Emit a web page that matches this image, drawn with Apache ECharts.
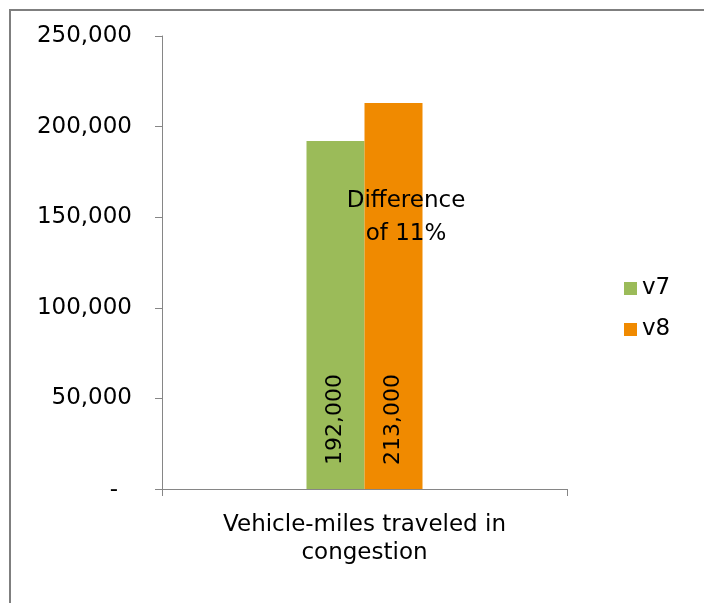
<!DOCTYPE html>
<html>
<head>
<meta charset="utf-8">
<title>Vehicle-miles traveled in congestion</title>
<script src="https://cdn.jsdelivr.net/npm/echarts@6/dist/echarts.min.js"></script>
<style>
  html, body { margin: 0; padding: 0; background: #fff; overflow: hidden; }
  .wrap { position: relative; width: 704px; height: 603px; overflow: hidden; }
  /* chart frame: only top and left edges show in the picture */
  .frame { position: absolute; left: 9px; top: 9px; width: 800px; height: 700px;
           border-top: 2px solid #7f7f7f; border-left: 2px solid #7f7f7f; }
  #myChart { position: absolute; left: 0; top: 0; width: 704px; height: 603px; }
</style>
</head>
<body>
<div class="wrap">
  <div class="frame"></div>
  <div id="myChart"></div>
</div>
<script>
// data
var categories = ['Vehicle-miles traveled in\ncongestion'];
var v7Values = [192000];
var v8Values = [213000];
var seriesNames = ['v7', 'v8'];
var noteText = 'Difference\nof 11%';

var fontFamily = '"DejaVu Sans", sans-serif';
var axisGray = '#868686';

function fmt(v) {
    return v.toLocaleString('en-US');
}

var myChart = echarts.init(document.getElementById('myChart'));

var barLabel = {
    show: true,
    position: 'insideBottom',
    rotate: 90,
    align: 'left',
    verticalAlign: 'middle',
    distance: 24,
    color: '#000',
    fontSize: 22,
    fontFamily: fontFamily,
    formatter: function (p) { return fmt(p.value); }
};

var option = {
    backgroundColor: 'transparent',
    animation: false,
    textStyle: { fontFamily: fontFamily },
    grid: {
        left: 162,
        right: 137,
        top: 36,
        bottom: 114
    },
    legend: {
        orient: 'vertical',
        left: 624,
        top: 277,
        padding: 0,
        itemWidth: 13,
        itemHeight: 13,
        itemGap: 18,
        icon: 'rect',
        data: seriesNames,
        textStyle: { fontSize: 23, color: '#000', fontFamily: fontFamily }
    },
    graphic: [
        {
            type: 'text',
            x: 406,
            y: 218,
            style: {
                text: noteText,
                fill: '#000',
                font: '23px ' + fontFamily,
                align: 'center',
                verticalAlign: 'middle',
                lineHeight: 33
            },
            z: 10
        }
    ],
    xAxis: {
        type: 'category',
        data: categories,
        axisLine: { lineStyle: { color: axisGray, width: 1 } },
        axisTick: { show: true, length: 7, lineStyle: { color: axisGray } },
        axisLabel: {
            color: '#000',
            fontSize: 23,
            lineHeight: 28,
            margin: 22,
            fontFamily: fontFamily
        },
        splitLine: { show: false }
    },
    yAxis: {
        type: 'value',
        min: 0,
        max: 250000,
        interval: 50000,
        axisLine: { show: true, lineStyle: { color: axisGray, width: 1 } },
        axisTick: { show: true, length: 7, lineStyle: { color: axisGray } },
        splitLine: { show: false },
        axisLabel: {
            color: '#000',
            fontSize: 23,
            margin: 30,
            fontFamily: fontFamily,
            formatter: function (v) {
                return v === 0 ? '{dash|-}' : fmt(v);
            },
            rich: {
                dash: { fontSize: 23, padding: [3, 14, 0, 0], fontFamily: fontFamily }
            }
        }
    },
    series: [
        {
            name: seriesNames[0],
            type: 'bar',
            data: v7Values,
            barWidth: 58,
            barGap: '0%',
            itemStyle: { color: '#9bbb59' },
            label: barLabel
        },
        {
            name: seriesNames[1],
            type: 'bar',
            data: v8Values,
            barWidth: 58,
            barGap: '0%',
            itemStyle: { color: '#f08a00' },
            label: barLabel
        }
    ]
};

myChart.setOption(option);
</script>
</body>
</html>
